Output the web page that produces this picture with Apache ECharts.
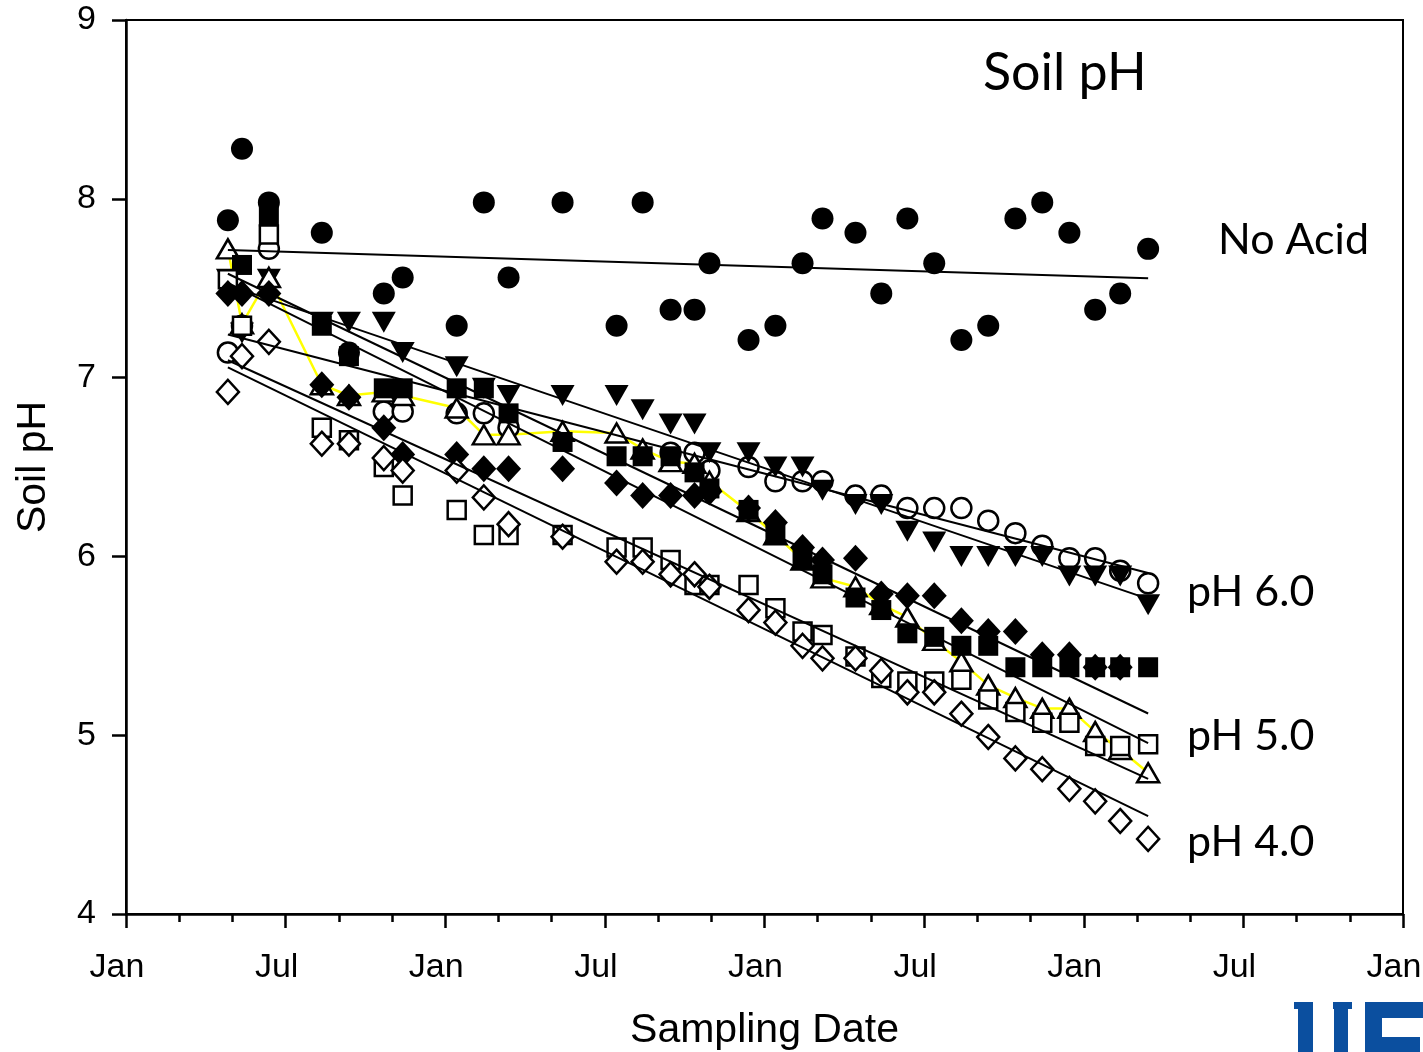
<!DOCTYPE html>
<html>
<head>
<meta charset="utf-8">
<title>Soil pH</title>
<script src="https://cdn.jsdelivr.net/npm/echarts@6.0.0/dist/echarts.min.js"></script>
<style>
  html, body { margin: 0; padding: 0; background: #ffffff; }
  #chart { width: 1423px; height: 1052px; }
</style>
</head>
<body>
<div id="chart"></div>
<script>
// Sampling dates, in months counted from the first January on the axis
const sampleMonths = [3.83, 4.36, 5.37, 7.36, 8.38, 9.69, 10.40, 12.43, 13.45, 14.38,
  16.41, 18.44, 19.42, 20.47, 21.37, 21.93, 23.40, 24.41, 25.43, 26.18,
  27.42, 28.39, 29.37, 30.38, 31.40, 32.41, 33.43, 34.44, 35.46, 36.43, 37.37, 38.42];

// Soil pH per treatment at each sampling date (null = no reading)
const noAcid     = [7.88, 8.28, 7.98, 7.81, 7.14, 7.47, 7.56, 7.29, 7.98, 7.56, 7.98, 7.29, 7.98, 7.38, 7.38, 7.64,
  7.21, 7.29, 7.64, 7.89, 7.81, 7.47, 7.89, 7.64, 7.21, 7.29, 7.89, 7.98, 7.81, 7.38, 7.47, 7.72];
const openCircle = [7.14, 7.29, 7.72, null, null, 6.81, 6.81, 6.80, 6.80, 6.72, null, null, null, 6.58, 6.58, 6.48,
  6.50, 6.42, 6.42, 6.42, 6.34, 6.34, 6.27, 6.27, 6.27, 6.20, 6.13, 6.06, 5.99, 5.99, 5.92, 5.85];
const filledTriDown = [7.55, 7.25, 7.55, 7.31, 7.31, 7.31, 7.14, 7.06, 6.94, 6.90, 6.90, 6.90, 6.82, 6.74, 6.74, 6.58,
  6.58, 6.50, 6.50, 6.37, 6.29, 6.29, 6.14, 6.08, 6.00, 6.00, 6.00, 6.00, 5.89, 5.89, 5.89, 5.73];
const openTriUp  = [7.72, 7.30, 7.56, 6.96, 6.90, 6.92, 6.90, 6.83, 6.68, 6.68, 6.70, 6.69, 6.60, 6.53, 6.52, 6.42,
  6.25, 6.12, 5.98, 5.88, 5.83, 5.73, 5.66, 5.53, 5.41, 5.28, 5.21, 5.15, 5.15, 5.02, 4.92, 4.79];
const filledSquare = [null, 7.63, 7.90, 7.29, 7.12, 6.94, 6.94, 6.94, 6.94, 6.80, 6.64, 6.56, 6.56, 6.56, 6.47, 6.38,
  6.26, 6.12, 5.98, 5.90, 5.77, 5.70, 5.57, 5.55, 5.50, 5.50, 5.38, 5.38, 5.38, 5.38, 5.38, 5.38];
const openSquare = [7.55, 7.29, 7.80, 6.72, 6.65, 6.50, 6.34, 6.26, 6.12, 6.12, 6.12, 6.05, 6.05, 5.98, 5.84, 5.84,
  5.84, 5.71, 5.58, 5.56, 5.44, 5.32, 5.30, 5.30, 5.31, 5.20, 5.13, 5.07, 5.07, 4.94, 4.94, 4.95];
const filledDiamond = [7.47, 7.47, 7.47, 6.96, 6.89, 6.72, 6.57, 6.57, 6.49, 6.49, 6.49, 6.41, 6.34, 6.34, 6.34, 6.36,
  6.27, 6.19, 6.05, 5.98, 5.99, 5.79, 5.78, 5.78, 5.64, 5.58, 5.58, 5.45, 5.45, 5.38, 5.38, null];
const openDiamond = [6.92, 7.12, 7.20, 6.63, 6.63, 6.55, 6.48, 6.48, 6.33, 6.18, 6.11, 5.97, 5.97, 5.90, 5.90, 5.83,
  5.70, 5.63, 5.50, 5.43, 5.43, 5.36, 5.24, 5.24, 5.12, 4.99, 4.87, 4.81, 4.70, 4.63, 4.52, 4.42];

// Axis ticks
const monthTicks = { min: 0, max: 48, step: 6 };
const monthNames = ['Jan', 'Jul'];
const pHTicks = { min: 4, max: 9, step: 1 };

// Treatment labels at the right of the plot
const treatmentLabels = ['No Acid', 'pH 6.0', 'pH 5.0', 'pH 4.0'];

function pairs(values) {
  const out = [];
  values.forEach((v, i) => { if (v !== null) out.push([sampleMonths[i], v]); });
  return out;
}

// Least-squares line over a treatment's readings, drawn across the sampling period
function trend(values) {
  const p = pairs(values);
  const n = p.length;
  let sx = 0, sy = 0, sxx = 0, sxy = 0;
  p.forEach(([x, y]) => { sx += x; sy += y; sxx += x * x; sxy += x * y; });
  const b = (n * sxy - sx * sy) / (n * sxx - sx * sx);
  const a = (sy - b * sx) / n;
  const x0 = sampleMonths[0], x1 = sampleMonths[sampleMonths.length - 1];
  return [[x0, a + b * x0], [x1, a + b * x1]];
}

const open = { color: '#ffffff', borderColor: '#000000', borderWidth: 2.5, opacity: 1 };
const solid = { color: '#000000', borderWidth: 0, opacity: 1 };

function points(name, values, symbol, size, style, rotate) {
  return {
    name, type: 'scatter', data: pairs(values), symbol, symbolSize: size,
    symbolRotate: rotate || 0, itemStyle: style, z: 2, silent: true
  };
}

function fitLine(values) {
  return {
    type: 'line', data: trend(values), symbol: 'none', z: 5, silent: true,
    lineStyle: { color: '#000000', width: 2, opacity: 1 }
  };
}

const series = [
  points('No Acid', noAcid, 'circle', 22, solid),
  points('open circle', openCircle, 'circle', 20, open),
  points('filled triangle', filledTriDown, 'triangle', [24, 21], solid, 180),
  {
    name: 'open triangle', type: 'line', data: pairs(openTriUp),
    symbol: 'triangle', symbolSize: [22, 19], showAllSymbol: true, z: 2, silent: true,
    itemStyle: open, lineStyle: { color: '#ffff00', width: 2.5, opacity: 1 }
  },
  points('filled square', filledSquare, 'rect', 20, solid),
  points('open square', openSquare, 'rect', 18, open),
  points('filled diamond', filledDiamond, 'diamond', [25, 27], solid),
  points('open diamond', openDiamond, 'diamond', [22, 24], open),
  fitLine(noAcid),
  fitLine(openCircle),
  fitLine(filledTriDown),
  fitLine(openTriUp),
  fitLine(filledSquare),
  fitLine(openSquare),
  fitLine(openDiamond)
];

const labelFont = 'Lato, "Open Sans", sans-serif';
const axisFont = '"Liberation Sans", Arial, sans-serif';
const ufBlue = '#0b4f9f';

const chart = echarts.init(document.getElementById('chart'), null, { renderer: 'canvas' });
chart.setOption({
  animation: false,
  backgroundColor: '#ffffff',
  grid: {
    left: 126, right: 20, top: 20, bottom: 138, containLabel: false, outerBoundsMode: 'none',
    show: true, borderColor: '#000000', borderWidth: 2
  },
  xAxis: {
    type: 'value', min: monthTicks.min, max: monthTicks.max, interval: monthTicks.step,
    name: 'Sampling Date', nameLocation: 'middle', nameGap: 96,
    nameTextStyle: { fontFamily: axisFont, fontSize: 41, color: '#000000' },
    axisLine: { lineStyle: { color: '#000000', width: 2.5 } },
    axisTick: { show: true, inside: false, length: 14, lineStyle: { color: '#000000', width: 2.5 } },
    minorTick: { show: true, splitNumber: 3, length: 8, lineStyle: { color: '#000000', width: 2.5 } },
    splitLine: { show: false },
    axisLabel: {
      fontFamily: axisFont, fontSize: 34, color: '#000000', margin: 37, padding: [0, 18, 0, 0],
      formatter: v => monthNames[(v / monthTicks.step) % 2]
    }
  },
  yAxis: {
    type: 'value', min: pHTicks.min, max: pHTicks.max, interval: pHTicks.step,
    name: 'Soil pH', nameLocation: 'middle', nameGap: 72,
    nameTextStyle: { fontFamily: axisFont, fontSize: 41, color: '#000000' },
    axisLine: { show: true, lineStyle: { color: '#000000', width: 2.5 } },
    axisTick: { show: true, inside: false, length: 14, lineStyle: { color: '#000000', width: 2.5 } },
    splitLine: { show: false },
    axisLabel: { fontFamily: axisFont, fontSize: 34, color: '#000000', margin: 30 }
  },
  series,
  graphic: [
    { type: 'text', left: 983, top: 47, silent: true,
      style: { text: 'Soil pH', font: '52px ' + labelFont, fill: '#000000' } },
    { type: 'text', left: 1218, top: 219, silent: true,
      style: { text: treatmentLabels[0], font: '43px ' + labelFont, fill: '#000000' } },
    { type: 'text', left: 1187, top: 571, silent: true,
      style: { text: treatmentLabels[1], font: '43px ' + labelFont, fill: '#000000' } },
    { type: 'text', left: 1187, top: 715, silent: true,
      style: { text: treatmentLabels[2], font: '43px ' + labelFont, fill: '#000000' } },
    { type: 'text', left: 1187, top: 821, silent: true,
      style: { text: treatmentLabels[3], font: '43px ' + labelFont, fill: '#000000' } },
    // UF mark, cut by the lower edge of the page
    { type: 'group', silent: true, children: [
      { type: 'rect', shape: { x: 1294, y: 1002, width: 19, height: 7 }, style: { fill: ufBlue } },
      { type: 'rect', shape: { x: 1298, y: 1002, width: 15, height: 50 }, style: { fill: ufBlue } },
      { type: 'rect', shape: { x: 1333, y: 1002, width: 19, height: 7 }, style: { fill: ufBlue } },
      { type: 'rect', shape: { x: 1334, y: 1002, width: 14, height: 50 }, style: { fill: ufBlue } },
      { type: 'rect', shape: { x: 1365, y: 1002, width: 58, height: 16 }, style: { fill: ufBlue } },
      { type: 'rect', shape: { x: 1365, y: 1002, width: 17, height: 50 }, style: { fill: ufBlue } },
      { type: 'rect', shape: { x: 1382, y: 1037, width: 38, height: 15 }, style: { fill: ufBlue } }
    ] }
  ]
});
</script>
</body>
</html>
